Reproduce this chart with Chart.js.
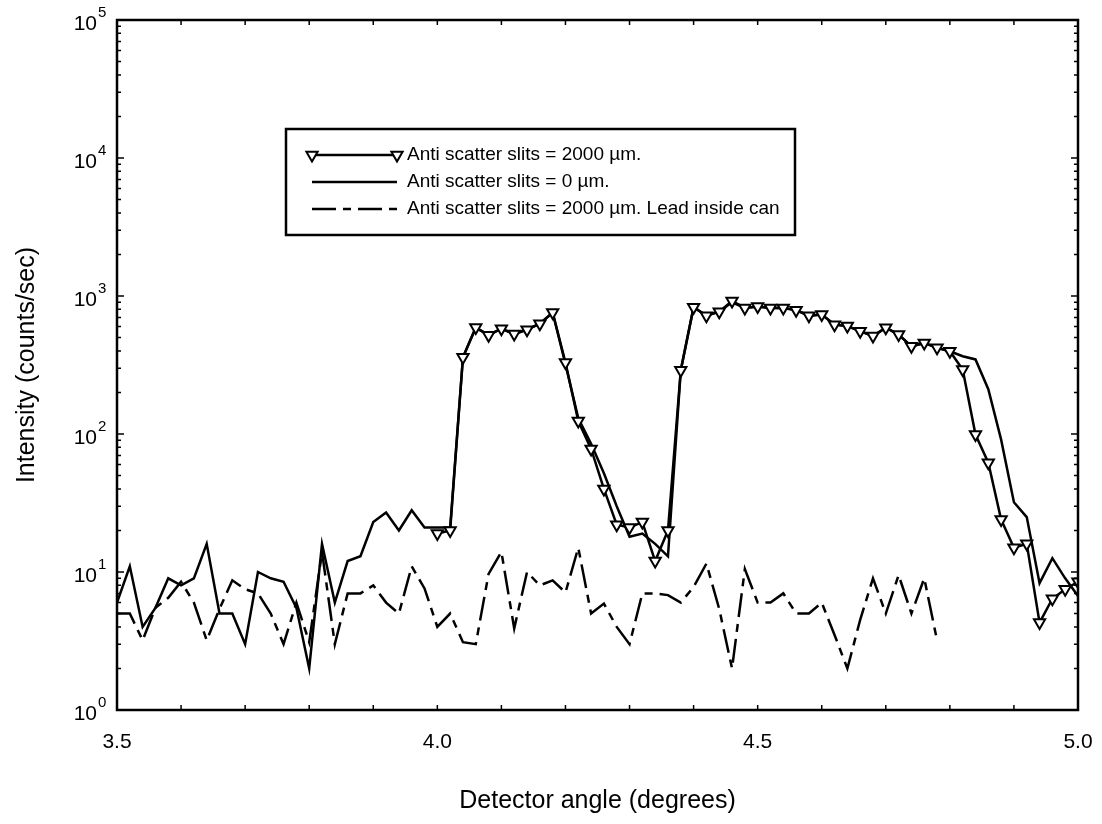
<!DOCTYPE html>
<html>
<head>
<meta charset="utf-8">
<title>Intensity vs detector angle</title>
<script src="https://cdn.jsdelivr.net/npm/chart.js@4.4.1/dist/chart.umd.min.js"></script>
<style>
  html, body { margin: 0; padding: 0; background: #fff; }
  #chart { display: block; }
</style>
</head>
<body>
<canvas id="chart" width="1102" height="824"></canvas>
<script>
// Detector angle in degrees, one scan step apart
const angles = [
    3.50, 3.52, 3.54, 3.56, 3.58, 3.60, 3.62, 3.64, 3.66, 3.68,
    3.70, 3.72, 3.74, 3.76, 3.78, 3.80, 3.82, 3.84, 3.86, 3.88,
    3.90, 3.92, 3.94, 3.96, 3.98, 4.00, 4.02, 4.04, 4.06, 4.08,
    4.10, 4.12, 4.14, 4.16, 4.18, 4.20, 4.22, 4.24, 4.26, 4.28,
    4.30, 4.32, 4.34, 4.36, 4.38, 4.40, 4.42, 4.44, 4.46, 4.48,
    4.50, 4.52, 4.54, 4.56, 4.58, 4.60, 4.62, 4.64, 4.66, 4.68,
    4.70, 4.72, 4.74, 4.76, 4.78, 4.80, 4.82, 4.84, 4.86, 4.88,
    4.90, 4.92, 4.94, 4.96, 4.98, 5.00
];

// Intensity (counts/sec), anti scatter slits = 2000 um (scan starts at 4.00)
const slits2000 = [
    null, null, null, null, null, null, null, null, null, null,
    null, null, null, null, null, null, null, null, null, null,
    null, null, null, null, null, 19, 20, 360, 590, 520,
    580, 530, 570, 630, 760, 330, 124, 78, 40, 22,
    21, 23, 12, 20, 290, 830, 720, 770, 920, 820,
    840, 820, 820, 790, 720, 733, 620, 605, 556, 513,
    589, 525, 432, 457, 421, 398, 293, 99, 62, 24,
    15, 16, 4.3, 6.4, 7.5, 8.5
];

// Intensity (counts/sec), anti scatter slits = 0 um
const slits0 = [
    6, 11, 4, 5.5, 9, 8, 9, 16, 5, 5,
    3, 10, 9, 8.5, 5.5, 2, 16, 6, 12, 13,
    23, 27, 20, 28, 21, 21, 21, 360, 590, 520,
    580, 530, 570, 630, 760, 320, 130, 85, 52, 30,
    18, 19, 16, 13, 290, 830, 720, 770, 900, 820,
    840, 820, 820, 790, 720, 733, 620, 605, 556, 513,
    589, 525, 432, 457, 421, 398, 366, 347, 211, 91,
    32, 25, 8.3, 12.6, 9, 6.7
];

// Intensity (counts/sec), 2000 um slits with lead inside the can (scan ends at 4.78)
const leadCan = [
    5, 5, 3.2, 5.5, 6.5, 8.5, 6, 3.2, 5.4, 8.7,
    7.5, 7, 5, 3, 6, 3.1, 14, 3, 7, 7,
    8, 6, 5, 11, 7.6, 4, 5, 3.1, 3, 9.7,
    14, 3.9, 10, 8, 8.7, 7.1, 15, 5, 5.9, 4,
    3, 7, 7, 6.8, 6, 7.8, 11.5, 5.4, 2, 10.5,
    6, 6, 7, 5, 5, 6, 3.5, 2, 4.5, 9,
    5, 9.5, 5, 9, 3.2, null, null, null, null, null,
    null, null, null, null, null, null
];

const seriesLabels = [
    'Anti scatter slits = 2000 \u00b5m.',
    'Anti scatter slits = 0 \u00b5m.',
    'Anti scatter slits = 2000 \u00b5m. Lead inside can'
];

// Axis ticks
const xTicks = [3.5, 3.6, 3.7, 3.8, 3.9, 4.0, 4.1, 4.2, 4.3, 4.4, 4.5, 4.6, 4.7, 4.8, 4.9, 5.0];
const xTickLabels = ['3.5', '4.0', '4.5', '5.0'];
const yExponents = [0, 1, 2, 3, 4, 5];

const FONT = '"Liberation Sans", Arial, Helvetica, sans-serif';

function toPoints(values) {
    return angles.map((a, i) => ({ x: a, y: values[i] }));
}

// Box, inward ticks, tick labels and axis titles
const axesFrame = {
    id: 'axesFrame',
    afterDatasetsDraw(chart) {
        const { ctx, chartArea: a, scales: { x, y } } = chart;
        ctx.save();
        ctx.strokeStyle = '#000';
        ctx.fillStyle = '#000';
        ctx.lineWidth = 2.5;
        ctx.strokeRect(a.left, a.top, a.right - a.left, a.bottom - a.top);

        ctx.lineWidth = 1.5;
        ctx.beginPath();
        xTicks.forEach(v => {
            const px = x.getPixelForValue(v);
            ctx.moveTo(px, a.bottom); ctx.lineTo(px, a.bottom - 5);
            ctx.moveTo(px, a.top); ctx.lineTo(px, a.top + 5);
        });
        for (let e = 0; e < 5; e++) {
            for (let m = 1; m <= 9; m++) {
                const py = y.getPixelForValue(m * Math.pow(10, e));
                const len = m === 1 ? 7 : 4;
                ctx.moveTo(a.left, py); ctx.lineTo(a.left + len, py);
                ctx.moveTo(a.right, py); ctx.lineTo(a.right - len, py);
            }
        }
        ctx.stroke();

        // x tick labels
        ctx.font = '21px ' + FONT;
        ctx.textAlign = 'center';
        ctx.textBaseline = 'middle';
        xTickLabels.forEach(t => {
            ctx.fillText(t, x.getPixelForValue(parseFloat(t)), a.bottom + 32);
        });

        // y tick labels as powers of ten
        yExponents.forEach(e => {
            const py = y.getPixelForValue(Math.pow(10, e));
            ctx.font = '21px ' + FONT;
            ctx.textAlign = 'right';
            ctx.fillText('10', a.left - 20, py + 4);
            ctx.font = '15px ' + FONT;
            ctx.textAlign = 'left';
            ctx.fillText(String(e), a.left - 19, py - 7);
        });

        // axis titles
        ctx.font = '25px ' + FONT;
        ctx.textAlign = 'center';
        ctx.fillText('Detector angle (degrees)', (a.left + a.right) / 2, 801);
        ctx.translate(27, (a.top + a.bottom) / 2);
        ctx.rotate(-Math.PI / 2);
        ctx.fillText('Intensity (counts/sec)', 0, 0);
        ctx.restore();
    }
};

// Boxed legend inside the plot area
const legendBox = {
    id: 'legendBox',
    afterDraw(chart) {
        const ctx = chart.ctx;
        const left = 286, top = 129, width = 509, height = 106;
        ctx.save();
        ctx.fillStyle = '#fff';
        ctx.fillRect(left, top, width, height);
        ctx.strokeStyle = '#000';
        ctx.lineWidth = 2.5;
        ctx.strokeRect(left, top, width, height);
        ctx.font = '19px ' + FONT;
        ctx.textBaseline = 'middle';
        ctx.textAlign = 'left';
        chart.data.datasets.forEach((ds, i) => {
            const yy = top + 26 + i * 27;
            ctx.strokeStyle = '#000';
            ctx.lineWidth = ds.borderWidth;
            ctx.setLineDash(ds.borderDash || []);
            ctx.beginPath();
            ctx.moveTo(312, yy);
            ctx.lineTo(397, yy);
            ctx.stroke();
            ctx.setLineDash([]);
            if (ds.pointRadius > 0) {
                ctx.fillStyle = ds.pointBackgroundColor;
                ctx.lineWidth = ds.pointBorderWidth;
                [312, 397].forEach(px => {
                    Chart.helpers.drawPoint(ctx, {
                        pointStyle: ds.pointStyle,
                        rotation: ds.pointRotation,
                        radius: ds.pointRadius,
                        borderWidth: ds.pointBorderWidth
                    }, px, yy);
                });
            }
            ctx.fillStyle = '#000';
            ctx.fillText(ds.label, 407, yy);
        });
        ctx.restore();
    }
};

new Chart(document.getElementById('chart'), {
    type: 'line',
    data: {
        datasets: [
            {
                label: seriesLabels[0],
                data: toPoints(slits2000),
                borderColor: '#000',
                borderWidth: 2.5,
                pointStyle: 'triangle',
                pointRotation: 180,
                pointRadius: 6.5,
                pointBackgroundColor: '#fff',
                pointBorderColor: '#000',
                pointBorderWidth: 2,
                tension: 0,
                spanGaps: false
            },
            {
                label: seriesLabels[1],
                data: toPoints(slits0),
                borderColor: '#000',
                borderWidth: 2.5,
                pointRadius: 0,
                tension: 0
            },
            {
                label: seriesLabels[2],
                data: toPoints(leadCan),
                borderColor: '#000',
                borderWidth: 2.5,
                borderDash: [24, 7, 8, 7],
                pointRadius: 0,
                tension: 0,
                spanGaps: false
            }
        ]
    },
    options: {
        responsive: false,
        animation: false,
        devicePixelRatio: 1,
        layout: { padding: { left: 117, top: 20, right: 24, bottom: 114 } },
        plugins: {
            legend: { display: false },
            tooltip: { enabled: false }
        },
        scales: {
            x: { type: 'linear', min: 3.5, max: 5.0, display: false },
            y: { type: 'logarithmic', min: 1, max: 100000, display: false }
        }
    },
    plugins: [axesFrame, legendBox]
});
</script>
</body>
</html>
